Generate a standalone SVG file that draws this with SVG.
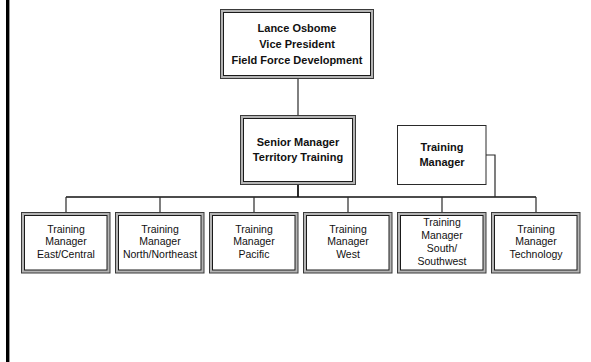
<svg xmlns="http://www.w3.org/2000/svg" width="591" height="362" viewBox="0 0 591 362">
<style>
.o{fill:#b4b4b4;stroke:#3a3a3a;stroke-width:1}
.i{fill:#fff;stroke:#1a1a1a;stroke-width:1}
.s{fill:#fff;stroke:#2a2a2a;stroke-width:1}
.c{fill:none;stroke:#2a2a2a;stroke-width:1.2}
.b{font-family:"Liberation Sans",Arial,sans-serif;font-weight:bold;font-size:11px;fill:#111;text-anchor:middle}
.t{font-family:"Liberation Sans",Arial,sans-serif;font-size:10.5px;fill:#111;text-anchor:middle}
</style>
<rect x="0" y="0" width="591" height="362" fill="#fff"/>
<rect x="6" y="0" width="3" height="362" fill="#000"/>
<rect x="9" y="0" width="1" height="362" fill="#999"/>
<g id="connectors">
<path class="c" d="M298 79V116"/>
<path class="c" d="M298 185V197" style="stroke-width:2"/>
<path class="c" d="M66 197H536" style="stroke-width:1.5;stroke:#111"/>
<path class="c" d="M66 197V212M160 197V212M254 197V212M348 197V212M442 197V212M536 197V212"/>
<path class="c" d="M486 155H495V197"/>
</g>
<g id="vp">
<rect class="o" x="220.5" y="9.5" width="153" height="69"/>
<rect class="i" x="223.5" y="12.5" width="147" height="63"/>
<text class="b" x="297" y="31.5">Lance Osbome</text>
<text class="b" x="297" y="47.5">Vice President</text>
<text class="b" x="297" y="63.5">Field Force Development</text>
</g>
<g id="senior">
<rect class="o" x="240.5" y="115.5" width="115" height="69"/>
<rect class="i" x="243.5" y="118.5" width="109" height="63"/>
<text class="b" x="298" y="146">Senior Manager</text>
<text class="b" x="298" y="160.5">Territory Training</text>
</g>
<g id="tm">
<rect class="s" x="397.5" y="125.5" width="88.5" height="59"/>
<text class="b" x="442" y="150.7">Training</text>
<text class="b" x="442" y="165.8">Manager</text>
</g>
<g id="east">
<rect class="o" x="21.5" y="212.5" width="88.5" height="60.5"/>
<rect class="i" x="24.5" y="215.5" width="82.5" height="54.5"/>
<text class="t" x="66" y="232.5">Training</text>
<text class="t" x="66" y="245">Manager</text>
<text class="t" x="66" y="258">East/Central</text>
</g>
<g id="north">
<rect class="o" x="115.5" y="212.5" width="88.5" height="60.5"/>
<rect class="i" x="118.5" y="215.5" width="82.5" height="54.5"/>
<text class="t" x="160" y="232.5">Training</text>
<text class="t" x="160" y="245">Manager</text>
<text class="t" x="160" y="258">North/Northeast</text>
</g>
<g id="pacific">
<rect class="o" x="209.5" y="212.5" width="88.5" height="60.5"/>
<rect class="i" x="212.5" y="215.5" width="82.5" height="54.5"/>
<text class="t" x="254" y="232.5">Training</text>
<text class="t" x="254" y="245">Manager</text>
<text class="t" x="254" y="258">Pacific</text>
</g>
<g id="west">
<rect class="o" x="303.5" y="212.5" width="88.5" height="60.5"/>
<rect class="i" x="306.5" y="215.5" width="82.5" height="54.5"/>
<text class="t" x="348" y="232.5">Training</text>
<text class="t" x="348" y="245">Manager</text>
<text class="t" x="348" y="258">West</text>
</g>
<g id="south">
<rect class="o" x="397.5" y="212.5" width="88.5" height="60.5"/>
<rect class="i" x="400.5" y="215.5" width="82.5" height="54.5"/>
<text class="t" x="442" y="226">Training</text>
<text class="t" x="442" y="239">Manager</text>
<text class="t" x="442" y="252">South/</text>
<text class="t" x="442" y="265">Southwest</text>
</g>
<g id="tech">
<rect class="o" x="491.5" y="212.5" width="88.5" height="60.5"/>
<rect class="i" x="494.5" y="215.5" width="82.5" height="54.5"/>
<text class="t" x="536" y="232.5">Training</text>
<text class="t" x="536" y="245">Manager</text>
<text class="t" x="536" y="258">Technology</text>
</g>
</svg>
